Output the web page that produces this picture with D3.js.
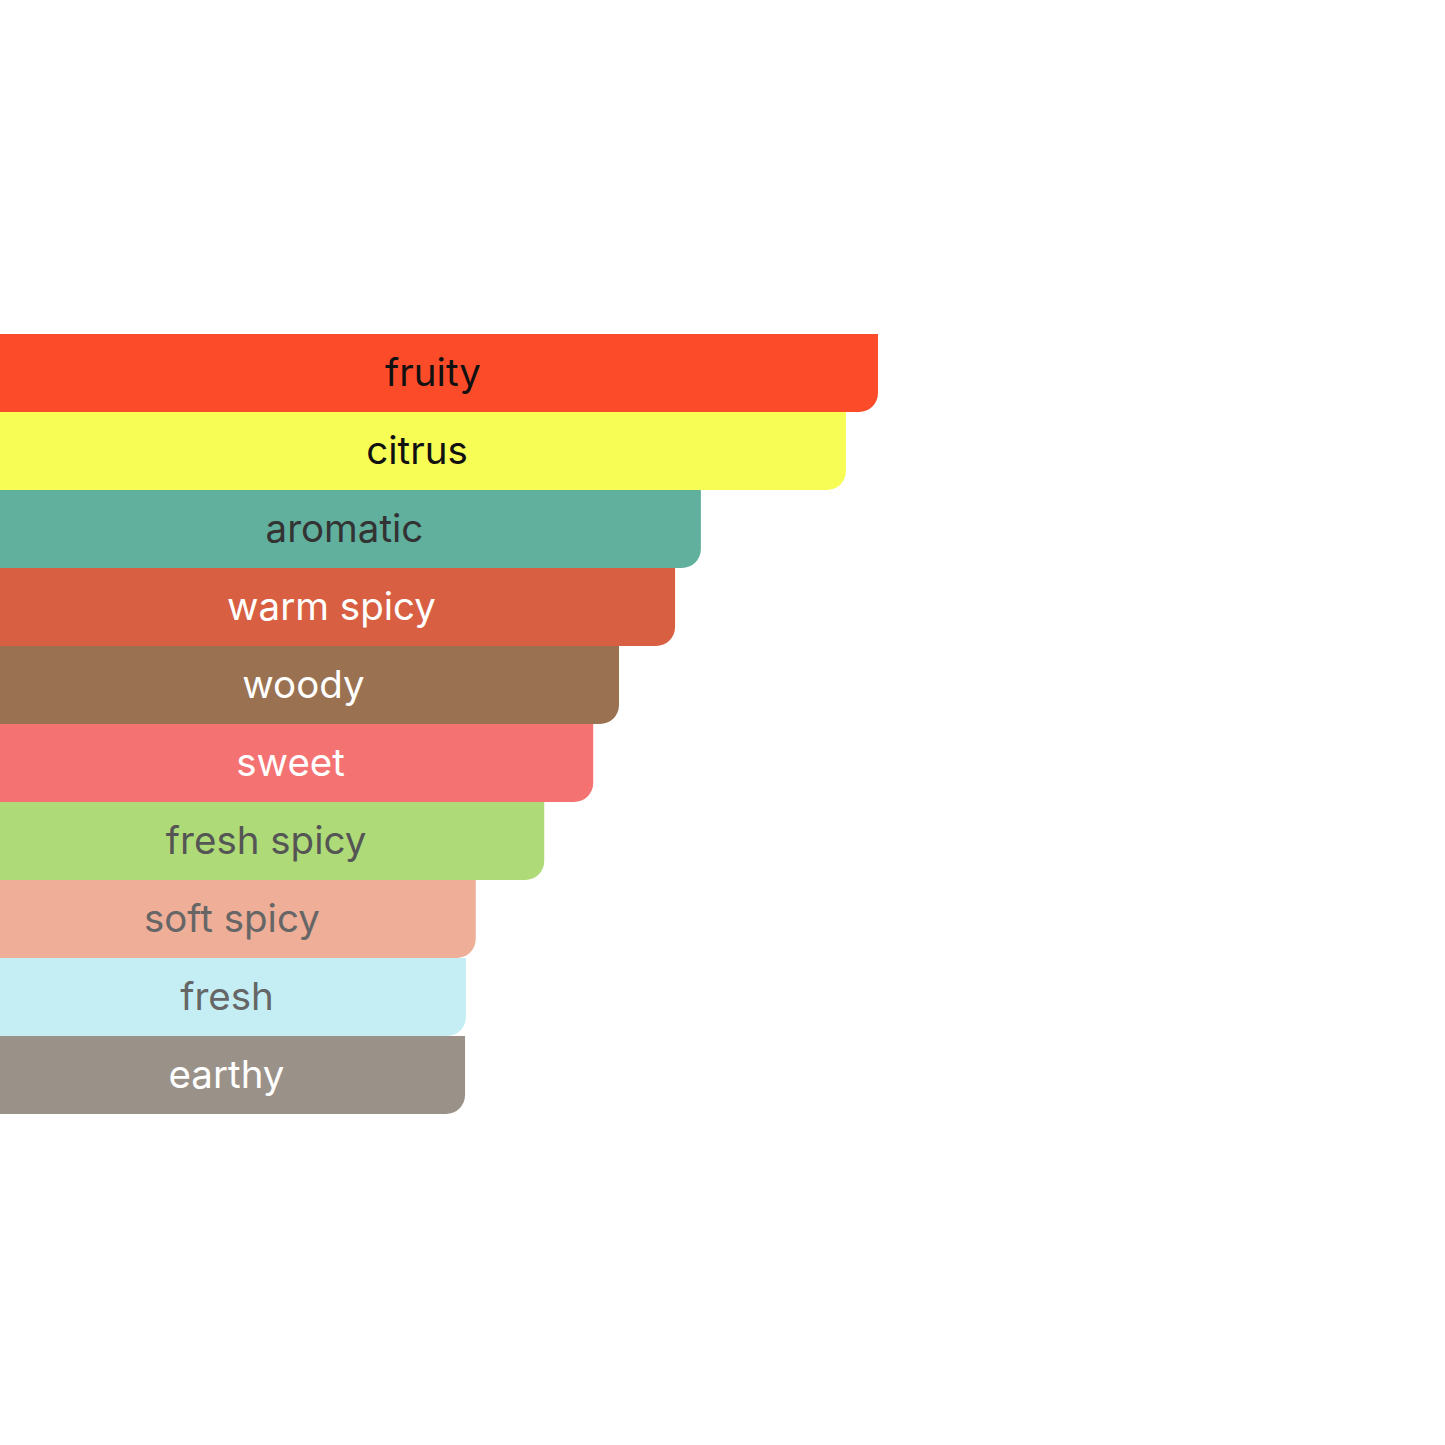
<!DOCTYPE html>
<html><head><meta charset="utf-8">
<script src="https://cdn.jsdelivr.net/npm/d3@7"></script>
<style>html,body{margin:0;padding:0;background:#fff;}svg{display:block;}</style>
</head><body>
<script>
const categories = ["fruity","citrus","aromatic","warm spicy","woody","sweet","fresh spicy","soft spicy","fresh","earthy"];
const values = [100, 96.4, 80.1, 77.2, 70.9, 68.0, 62.5, 54.8, 53.7, 53.6];
const barColors = ["#FC4B29","#F8FD56","#61B09E","#D85F42","#9A7251","#F47272","#AEDB78","#EEAE98","#C4EEF3","#9A9188"];
const textColors = ["#111111","#111111","#333333","#ffffff","#ffffff","#ffffff","#555555","#666666","#666666","#ffffff"];

const W = 1445, H = 1445;
const svg = d3.select("body").append("svg").attr("width", W).attr("height", H);

const x = d3.scaleLinear().domain([0, 100]).range([-12, 878]);
const y = d3.scaleBand().domain(categories).range([334, 1114]).padding(0);
const r = 19;

function barPath(x0, x1, y0, y1) {
  return `M${x0},${y0}H${x1}V${y1 - r}A${r},${r} 0 0 1 ${x1 - r},${y1}H${x0}Z`;
}

const g = svg.append("g");
categories.forEach((c, i) => {
  const x0 = x(0), x1 = x(values[i]), y0 = y(c), y1 = y(c) + y.bandwidth();
  g.append("path").attr("d", barPath(x0, x1, y0, y1)).attr("fill", barColors[i]);
  g.append("text")
    .attr("x", (x0 + x1) / 2)
    .attr("y", (y0 + y1) / 2 - 1)
    .attr("text-anchor", "middle")
    .attr("dominant-baseline", "central")
    .attr("font-family", "Inter, 'Noto Sans', sans-serif")
    .attr("font-size", 38.5)
    .attr("fill", textColors[i])
    .text(c);
});
</script>
</body></html>
